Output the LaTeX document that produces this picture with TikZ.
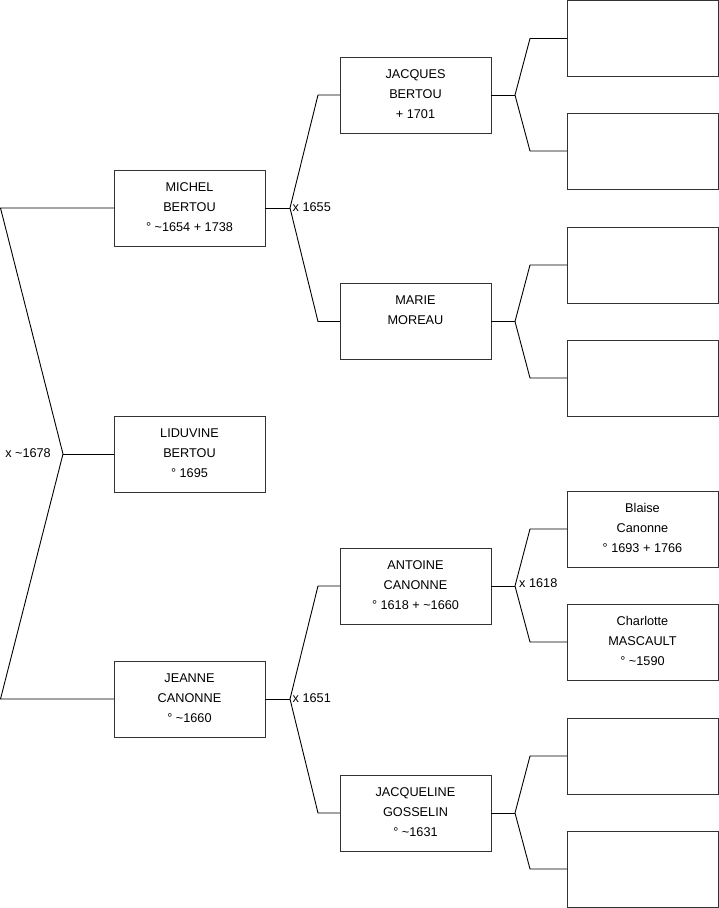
\documentclass[tikz,border=0pt]{standalone}
\usepackage{fontspec}
\setmainfont{Liberation Sans}
\usetikzlibrary{calc}
\newcommand{\pbx}[1]{\parbox[c][76pt][t]{151pt}{\fontsize{12.7}{20}\selectfont\centering\rule{0pt}{21pt}#1\par}}
\tikzset{
  person/.style={draw=black!80, line width=1pt, inner sep=0pt, outer sep=0pt, fill=white},
  conn/.style={draw=black, line width=0.9pt, line join=miter},
  mlabel/.style={font=\fontsize{12.7}{14}\selectfont, inner sep=0pt}
}
\begin{document}
\begin{tikzpicture}[x=1pt,y=-1pt]
\useasboundingbox (0,0) rectangle (719,908);
% generation 1
\node[person] (michel)   at (189.5,208) {\pbx{MICHEL\\BERTOU\\° \textasciitilde1654 + 1738}};
\node[person] (liduvine) at (189.5,454) {\pbx{LIDUVINE\\BERTOU\\° 1695}};
\node[person] (jeanne)   at (189.5,699) {\pbx{JEANNE\\CANONNE\\° \textasciitilde1660}};
% generation 2
\node[person] (jacques)    at (415.5,95)  {\pbx{JACQUES\\BERTOU\\+ 1701}};
\node[person] (marie)      at (415.5,321.5) {\pbx{MARIE\\MOREAU}};
\node[person] (antoine)    at (415.5,586) {\pbx{ANTOINE\\CANONNE\\° 1618 + \textasciitilde1660}};
\node[person] (jacqueline) at (415.5,813) {\pbx{JACQUELINE\\GOSSELIN\\° \textasciitilde1631}};
% generation 3
\node[person] (r1) at (642.5,38.5)  {\pbx{}};
\node[person] (r2) at (642.5,151)   {\pbx{}};
\node[person] (r3) at (642.5,265)   {\pbx{}};
\node[person] (r4) at (642.5,378)   {\pbx{}};
\node[person] (blaise)    at (642.5,529) {\pbx{Blaise\\Canonne\\° 1693 + 1766}};
\node[person] (charlotte) at (642.5,642) {\pbx{Charlotte\\MASCAULT\\° \textasciitilde1590}};
\node[person] (r7) at (642.5,756)   {\pbx{}};
\node[person] (r8) at (642.5,869)   {\pbx{}};
% junction points
\coordinate (a1) at (0.5,208);
\coordinate (a2) at (0.5,699);
\coordinate (j0) at (63,454);
\coordinate (j1) at (290,208);
\coordinate (j2) at (290,699);
\coordinate (k1) at (515,95);
\coordinate (k2) at (515,321.5);
\coordinate (k3) at (515,586);
\coordinate (k4) at (515,813);
% connectors
\draw[conn] (michel.west) -- (a1) -- (j0) -- (a2) -- (jeanne.west);
\draw[conn] (j0) -- (liduvine.west);
\node[mlabel, anchor=east] at ($(j0)+(-12,-1)$) {x \textasciitilde1678};

\draw[conn] (michel.east) -- (j1);
\draw[conn] (jacques.west) -- ++(-22,0) -- (j1) -- ($(marie.west)+(-22,0)$) -- (marie.west);
\node[mlabel, anchor=west] at ($(j1)+(2.5,-1)$) {x 1655};

\draw[conn] (jeanne.east) -- (j2);
\draw[conn] (antoine.west) -- ++(-22,0) -- (j2) -- ($(jacqueline.west)+(-22,0)$) -- (jacqueline.west);
\node[mlabel, anchor=west] at ($(j2)+(2.5,-1)$) {x 1651};

\draw[conn] (jacques.east) -- (k1);
\draw[conn] (r1.west) -- ++(-37,0) -- (k1) -- ($(r2.west)+(-37,0)$) -- (r2.west);
\draw[conn] (marie.east) -- (k2);
\draw[conn] (r3.west) -- ++(-37,0) -- (k2) -- ($(r4.west)+(-37,0)$) -- (r4.west);
\draw[conn] (antoine.east) -- (k3);
\draw[conn] (blaise.west) -- ++(-37,0) -- (k3) -- ($(charlotte.west)+(-37,0)$) -- (charlotte.west);
\node[mlabel, anchor=west] at ($(k3)+(4,-3)$) {x 1618};
\draw[conn] (jacqueline.east) -- (k4);
\draw[conn] (r7.west) -- ++(-37,0) -- (k4) -- ($(r8.west)+(-37,0)$) -- (r8.west);
\end{tikzpicture}
\end{document}
